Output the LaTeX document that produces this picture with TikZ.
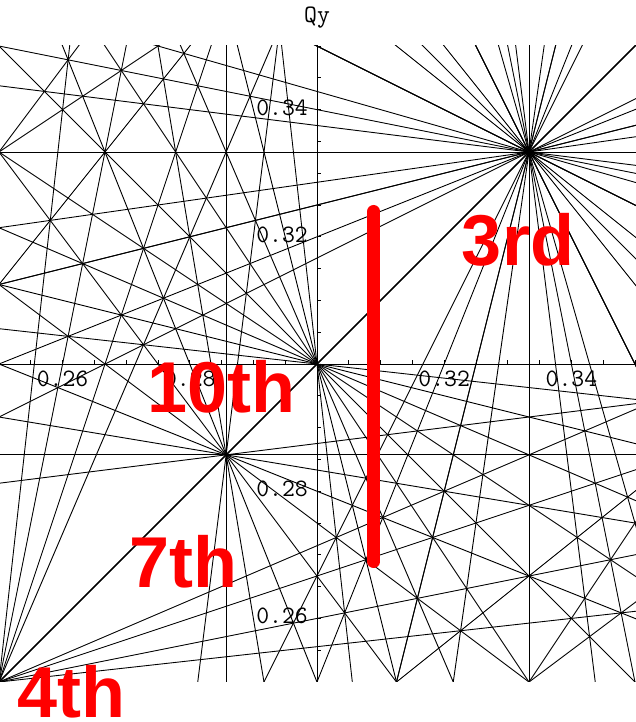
\documentclass[tikz,border=0pt]{standalone}
\usepackage{fontspec}
\setmainfont{Liberation Sans}
\begin{document}
\begin{tikzpicture}[x=1pt,y=1pt,
  res/.style={line width=0.9pt, black},
  tickmark/.style={line width=0.9pt, black},
  ticklab/.style={font=\ttfamily\fontsize{25}{25}\selectfont, inner sep=0pt},
  ordlab/.style={font=\bfseries\fontsize{72}{72}\selectfont, text=red, inner sep=0pt, anchor=base},
  redbar/.style={line width=13pt, red, line cap=round}]
\useasboundingbox (0,0) rectangle (636,722);
\begin{scope}[shift={(317,358)}, x=63.6pt, y=63.6pt]
  \clip (-5,-5) rectangle (5.05,5);
  \foreach \m in {-10,...,10}{
    \foreach \n in {0,...,10}{
      \pgfmathtruncatemacro{\ord}{abs(\m)+\n}
      \pgfmathtruncatemacro{\okdir}{(\n>0)||(\m>0)}
      \ifnum\ord>10 \else\ifnum\ord>0 \ifnum\okdir=1
        \pgfmathsetmacro{\lo}{0.25*\n + ((\m)>0 ? 0.25*(\m) : 0.35*(\m))}
        \pgfmathsetmacro{\hi}{0.35*\n + ((\m)>0 ? 0.35*(\m) : 0.25*(\m))}
        \pgfmathtruncatemacro{\plo}{ceil(\lo+0.0001)}
        \pgfmathtruncatemacro{\phi}{floor(\hi-0.0001)}
        \ifnum\plo>\phi\relax\else
          \foreach \p in {\plo,...,\phi}{
            \pgfmathsetmacro{\cval}{100*(\p - 0.3*(\m+\n))}
            \pgfmathtruncatemacro{\hz}{\n>(abs(\m)-1)}
            \ifnum\hz=1
              \pgfmathsetmacro{\ya}{(\cval+6*(\m))/\n}
              \pgfmathsetmacro{\yb}{(\cval-6*(\m))/\n}
              \draw[res] (-6,\ya) -- (6,\yb);
            \else
              \pgfmathsetmacro{\xa}{(\cval+6*\n)/(\m)}
              \pgfmathsetmacro{\xb}{(\cval-6*\n)/(\m)}
              \draw[res] (\xa,-6) -- (\xb,6);
            \fi
          }
        \fi
      \fi\fi\fi
    }
  }
  % axes
  \coordinate (xl) at (-5,0);
  \coordinate (xr) at (5.05,0);
  \coordinate (yb) at (0,-5);
  \coordinate (yt) at (0,5);
  \draw[res] (xl) -- (xr);
  \draw[res] (yb) -- (yt);
  \foreach \t in {-4.5,-4,...,5}{
    \draw[tickmark] (\t,0) -- ++(0,4pt);
    \draw[tickmark] (0,\t) -- ++(4pt,0);
  }
\end{scope}
\begin{scope}[shift={(317,358)}, x=63.6pt, y=63.6pt]
  \node[ticklab, anchor=base] (lx26) at ([yshift=-23pt]-4,0) {0.26};
  \node[ticklab, anchor=base] (lx28) at ([yshift=-23pt]-2,0) {0.28};
  \node[ticklab, anchor=base] (lx32) at ([yshift=-23pt]2,0) {0.32};
  \node[ticklab, anchor=base] (lx34) at ([yshift=-23pt]4,0) {0.34};
  \node[ticklab, anchor=base east] (ly34) at ([xshift=-9pt,yshift=-5.5pt]0,4) {0.34};
  \node[ticklab, anchor=base east] (ly32) at ([xshift=-9pt,yshift=-5.5pt]0,2) {0.32};
  \node[ticklab, anchor=base east] (ly28) at ([xshift=-9pt,yshift=-5.5pt]0,-2) {0.28};
  \node[ticklab, anchor=base east] (ly26) at ([xshift=-9pt,yshift=-5.5pt]0,-4) {0.26};
\end{scope}
\node[ticklab, anchor=base] (qy) at (317,699) {Qy};
% red annotations
\coordinate (bartop) at (373.7,510.5);
\coordinate (barbot) at (373.7,160.5);
\draw[redbar] (bartop) -- (barbot);
\node[ordlab] (l3) at (518,456) {3rd};
\node[ordlab] (l10) at (221.5,309) {10th};
\node[ordlab] (l7) at (183.5,134) {7th};
\node[ordlab] (l4) at (71,5) {4th};
\end{tikzpicture}
\end{document}
